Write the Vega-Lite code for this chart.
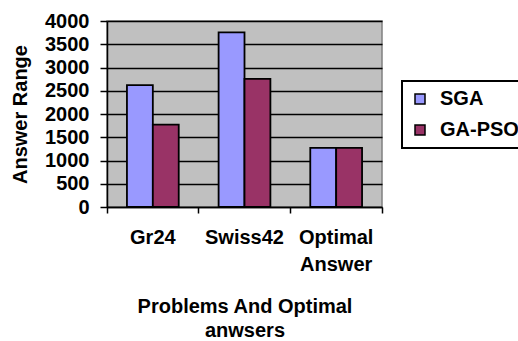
{
  "$schema": "https://vega.github.io/schema/vega-lite/v6.json",
  "width": 275,
  "height": 186,
  "autosize": "none",
  "padding": {"left": 107, "top": 21, "right": 136, "bottom": 134},
  "background": "white",
  "config": {
    "font": "Liberation Sans",
    "view": {"fill": "#C0C0C0", "stroke": "#808080", "strokeWidth": 1.5},
    "legend": {"strokeWidth": 2}
  },
  "data": {
    "values": [
      {"problem": "Gr24", "algorithm": "SGA", "value": 2620},
      {"problem": "Gr24", "algorithm": "GA-PSO", "value": 1770},
      {"problem": "Swiss42", "algorithm": "SGA", "value": 3755},
      {"problem": "Swiss42", "algorithm": "GA-PSO", "value": 2755},
      {"problem": "Optimal Answer", "algorithm": "SGA", "value": 1272},
      {"problem": "Optimal Answer", "algorithm": "GA-PSO", "value": 1273}
    ]
  },
  "mark": {"type": "bar", "stroke": "black", "strokeWidth": 1.8},
  "encoding": {
    "x": {
      "field": "problem",
      "type": "nominal",
      "sort": null,
      "scale": {"paddingInner": 0, "paddingOuter": 0},
      "axis": {
        "title": ["Problems And Optimal", "anwsers"],
        "titleFontSize": 20,
        "titleFontWeight": "bold",
        "titleColor": "black",
        "titleBaseline": "alphabetic",
        "titleY": 105,
        "titleLineHeight": 24.5,
        "labelAngle": 0,
        "labelFontSize": 20,
        "labelFontWeight": "bold",
        "labelColor": "black",
        "labelAlign": "center",
        "labelBaseline": "alphabetic",
        "labelPadding": 30,
        "labelLineHeight": 27,
        "labelOverlap": false,
        "labelBound": false,
        "labelFlush": false,
        "labelExpr": "datum.value == 'Optimal Answer' ? ['Optimal', 'Answer'] : datum.value",
        "bandPosition": 1,
        "tickExtra": true,
        "labelOffset": 0,
        "domainColor": "black",
        "domainWidth": 1.5,
        "tickColor": "black",
        "tickWidth": 1.5,
        "tickSize": 6,
        "grid": false
      }
    },
    "xOffset": {
      "field": "algorithm",
      "sort": ["SGA", "GA-PSO"],
      "scale": {"paddingInner": 0, "paddingOuter": 0.77}
    },
    "y": {
      "field": "value",
      "type": "quantitative",
      "scale": {"domain": [0, 4000], "nice": false},
      "axis": {
        "title": "Answer Range",
        "titleFontSize": 20,
        "titleFontWeight": "bold",
        "titleColor": "black",
        "titleBaseline": "alphabetic",
        "titleX": -81,
        "titleY": 93,
        "titleAngle": -90,
        "values": [0, 500, 1000, 1500, 2000, 2500, 3000, 3500, 4000],
        "format": "d",
        "labelFontSize": 20,
        "labelFontWeight": "bold",
        "labelColor": "black",
        "labelPadding": 11,
        "labelOverlap": false,
        "labelFlush": false,
        "domainColor": "black",
        "domainWidth": 1.5,
        "tickColor": "black",
        "tickWidth": 1.5,
        "tickSize": 7,
        "grid": true,
        "gridColor": "black",
        "gridWidth": 1.5,
        "gridOpacity": 1
      }
    },
    "color": {
      "field": "algorithm",
      "type": "nominal",
      "sort": ["SGA", "GA-PSO"],
      "scale": {"domain": ["SGA", "GA-PSO"], "range": ["#9999FF", "#993366"]},
      "legend": {
        "title": null,
        "orient": "none",
        "legendX": 295,
        "legendY": 60,
        "symbolType": "square",
        "symbolSize": 100,
        "symbolStrokeColor": "black",
        "symbolStrokeWidth": 1.5,
        "symbolOpacity": 1,
        "labelFontSize": 20,
        "labelFontWeight": "bold",
        "labelColor": "black",
        "labelOffset": 10,
        "rowPadding": 11,
        "padding": 8,
        "strokeColor": "black",
        "fillColor": "white"
      }
    }
  }
}
